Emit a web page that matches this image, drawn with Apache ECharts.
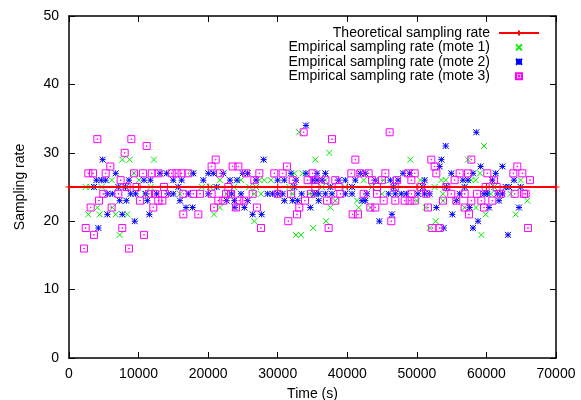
<!DOCTYPE html>
<html>
<head>
<meta charset="utf-8">
<script src="https://cdn.jsdelivr.net/npm/echarts@6/dist/echarts.min.js"></script>
<style>
html,body{margin:0;padding:0;background:#fff;}
#chart{width:581px;height:400px;}
</style>
</head>
<body>
<div id="chart"></div>
<script>
// ---- data ----
var xTicks = [0, 10000, 20000, 30000, 40000, 50000, 60000, 70000];
var yTicks = [0, 10, 20, 30, 40, 50];
var seriesNames = [
  'Theoretical sampling rate',
  'Empirical sampling rate (mote 1)',
  'Empirical sampling rate (mote 2)',
  'Empirical sampling rate (mote 3)'
];
var theoreticalTime = [0, 10000, 20000, 30000, 40000, 50000, 60000, 70000];
var theoreticalRate = [25, 25, 25, 25, 25, 25, 25, 25];

var mote1 = [
  [2400,25],[2780,21],[3110,25],[4070,22],[4410,21],[4690,25],[6130,26],[6230,22],[6710,21],[7280,18],
  [7660,29],[8380,21],[8720,29],[9340,27],[10060,26],[10920,24],[11740,25],[12200,29],
  [15950,24],[17630,27],[19070,25],[20270,25],[20840,21],[21700,26],[21700,22],[22660,24],[23700,25],
  [24720,26],[25920,25],[26640,24],[26640,20],[26880,25],[27360,26],[27600,24],[28070,26],[29030,26],
  [31670,25],[32150,24],[32390,27],[32630,18],[33100,33],[33350,18],[33580,27],[34540,24],[35100,19],[35400,29],
  [35410,24],[36370,25],[36850,26],[36940,20],[37420,30],[37560,22],[38280,23],[39720,25],[41400,23],[41640,22],
  [42350,26],[43310,22],[43550,25],[44990,24],[45230,26],
  [49060,29],[50020,23],[50500,26],[51270,22],[51840,19],[52560,25],[52700,20],[53520,26],[53760,24],[53760,23],
  [54140,26],[56870,22],[57350,29],[57830,26],[58500,22],[58450,26],
  [59080,27],[59270,18],[59650,31],[59890,21],[60610,24],[61090,25],[63480,24],[64200,21],[64920,26],[65880,23]
];
var mote2 = [
  [3590,25],[3930,26],[4220,19],[4650,26],[4840,29],[5270,26],[5510,24],[5510,21],[6230,24],[6710,27],
  [7090,25],[7280,23],[7660,21],[8140,25],[8240,23],[8620,26],[8860,24],[9440,20],[9580,24],[10780,26],
  [11020,24],[11260,23],[11700,26],[11550,21],
  [12600,24],[13080,27],[14040,27],[14280,24],[14990,26],[14990,24],[15710,25],[15950,23],[16190,26],[16820,22],
  [17150,24],[17770,22],[17870,27],[19310,26],[20020,27],[20020,24],[20740,27],[21220,25],[22180,27],[22660,23],
  [23140,26],[23380,24],[23860,22],[23770,23],
  [24150,26],[24720,24],[24960,27],[25200,22],[25680,27],[25680,23],[26400,21],[26880,26],[27690,21],[27980,29],
  [28550,24],[29270,24],[29990,26],[29990,24],[30710,24],[30950,26],[30950,23],[31910,27],[32150,23],[32390,25],
  [32630,26],[32870,23],[33440,24],[34060,34],[34060,27],[34690,22],[35020,26],[35260,24],
  [35650,27],[35650,26],[35890,24],[35890,23],[36370,26],[36850,27],[36850,24],[37560,25],[37800,24],[38760,26],
  [39720,26],[39720,24],[40680,25],[40680,24],[41160,26],[41870,27],[42110,23],[42590,27],[42590,23],[42830,24],
  [44030,26],[44610,20],[45950,24],[46190,26],[46420,21],[46660,25],[46900,24],
  [47290,26],[47770,24],[48010,27],[48490,24],[48970,27],[50160,24],[50880,25],[51120,26],[51120,24],[51840,24],
  [52800,22],[53280,28],[53520,29],[53850,19],[54140,31],[54240,25],[54950,27],[55100,21],[55670,23],[56150,24],
  [56630,26],[56870,25],[57350,26],[57590,22],[58070,27],[58070,19],[58550,33],[58790,20],
  [59170,28],[59650,24],[60130,24],[60370,22],[60850,26],[61330,27],[61570,24],[61810,23],[62290,28],[62290,24],
  [62770,25],[63100,18],[63240,25],[63960,26],[64680,22],[64920,25]
];
var mote3 = [
  [2160,16],[2400,19],[2780,27],[3110,22],[3450,27],[3590,18],[4070,32],[4310,23],[4930,24],[5270,27],
  [5940,28],[6130,22],[7090,24],[7420,26],[7660,19],[8000,30],[8290,25],[8620,16],[8960,32],[9340,27],
  [9720,25],[10200,23],[10630,27],[10780,18],[11160,31],[11500,24],[11900,27],
  [12360,24],[12120,22],[12840,27],[12840,23],[13420,23],[13650,25],[13800,24],[14760,27],[15470,27],[16190,27],
  [16430,24],[16430,21],[17150,27],[17870,24],[18590,21],[18830,24],[20500,28],[20500,24],[20840,22],[21080,29],
  [21460,23],[21700,27],[22180,23],[22560,24],[22900,25],[23520,28],
  [23290,24],[24000,22],[24340,28],[24480,23],[25200,23],[25440,27],[26400,24],[26640,26],[27020,22],[27360,27],
  [27600,19],[29510,27],[29990,24],[30710,27],[31330,28],[31520,20],[31910,24],[32150,26],[32770,21],[33100,22],
  [33730,33],[33920,23],[34300,26],[34780,24],[35020,27],
  [35410,26],[35410,25],[36850,26],[37080,23],[37320,19],[37800,32],[38280,26],[38280,23],[38760,25],[39000,24],
  [40580,27],[40770,21],[41160,29],[41540,21],[41870,27],[42350,24],[43070,27],[43310,22],[43550,26],[44030,22],
  [44270,25],[44270,24],[44990,26],[45230,23],[45470,27],[46090,33],[46330,20],[46900,23],[47140,26],
  [46810,25],[48250,23],[48730,27],[48970,23],[49210,26],[49210,24],[49690,27],[49690,23],[50640,25],[51360,24],
  [51600,22],[52080,29],[52220,19],[52560,28],[52800,27],[53280,19],[53760,23],[54240,25],[54950,24],[55430,26],
  [55670,23],[56150,27],[56870,24],[56870,22],[57350,27],[57490,21],[57830,29],[57830,23],[58640,24],
  [59270,23],[59650,22],[59890,25],[60130,27],[60850,23],[61090,26],[61470,25],[62050,24],[63870,27],[64060,24],
  [64440,28],[65160,27],[65400,24],[65640,24],[65970,19],[66260,26]
];

// ---- chart ----
var FONT = 'Liberation Sans, Arial, Helvetica, sans-serif';
var chart = echarts.init(document.getElementById('chart'), null, {renderer: 'canvas'});

var theoData = theoreticalTime.map(function (t, i) { return [t, theoreticalRate[i]]; });

var plusPath = 'path://M0,5L10,5M5,0L5,10';
var crossPath = 'path://M0,0L10,10M10,0L0,10';
var starPath = 'path://M0,0L10,10M10,0L0,10M5,0L5,10M0,5L10,5';
var boxPath = 'path://M0,0L10,0L10,10L0,10Z M4.5,4.5L5.5,4.5L5.5,5.5L4.5,5.5Z';

function plain(v) { return String(v); }

function axisCommon(showLabel) {
  return {
    axisLine: {show: true, onZero: false, lineStyle: {color: '#000', width: 1.5}},
    axisTick: {show: true, inside: true, length: 6, lineStyle: {color: '#000', width: 1}},
    axisLabel: {show: showLabel, color: '#000', fontFamily: FONT, fontSize: 14, formatter: plain},
    splitLine: {show: false}
  };
}

var xBottom = Object.assign({type: 'value', min: 0, max: 70000, interval: 10000, position: 'bottom',
  name: 'Time (s)', nameLocation: 'middle', nameGap: 29,
  nameTextStyle: {color: '#000', fontFamily: FONT, fontSize: 14}}, axisCommon(true));
xBottom.axisLabel.margin = 9;
var xTop = Object.assign({type: 'value', min: 0, max: 70000, interval: 10000, position: 'top'}, axisCommon(false));
var yLeft = Object.assign({type: 'value', min: 0, max: 50, interval: 10, position: 'left',
  name: 'Sampling rate', nameLocation: 'middle', nameGap: 42, nameRotate: 90,
  nameTextStyle: {color: '#000', fontFamily: FONT, fontSize: 14}}, axisCommon(true));
yLeft.axisLabel.margin = 10;
var yRight = Object.assign({type: 'value', min: 0, max: 50, interval: 10, position: 'right'}, axisCommon(false));

function scatter(name, data, path, size, color) {
  return {
    name: name, type: 'scatter', data: data, symbol: path, symbolSize: size,
    xAxisIndex: 0, yAxisIndex: 0, animation: false,
    itemStyle: {color: 'rgba(0,0,0,0)', borderColor: color, borderWidth: 1, opacity: 1},
    emphasis: {disabled: true}
  };
}

chart.setOption({
  animation: false,
  backgroundColor: '#fff',
  grid: {left: 69, right: 25, top: 16, bottom: 42, containLabel: false, outerBoundsMode: 'none'},
  xAxis: [xBottom, xTop],
  yAxis: [yLeft, yRight],
  legend: {
    orient: 'vertical', right: 36, top: 21, align: 'right',
    itemWidth: 40, itemHeight: 6, itemGap: 0.4,
    textStyle: {color: '#000', fontFamily: FONT, fontSize: 14, lineHeight: 14, padding: [0, 4, 0, 0]},
    selectedMode: false,
    data: seriesNames
  },
  series: [
    {
      name: seriesNames[0], type: 'line', data: theoData,
      symbol: plusPath, symbolSize: 7, showSymbol: true,
      lineStyle: {color: '#ff0000', width: 2},
      itemStyle: {color: 'rgba(0,0,0,0)', borderColor: '#ff0000', borderWidth: 1},
      emphasis: {disabled: true}
    },
    scatter(seriesNames[1], mote1, crossPath, 6, '#00ee00'),
    scatter(seriesNames[2], mote2, starPath, 6, '#0000ff'),
    scatter(seriesNames[3], mote3, boxPath, 7, '#ff00ff')
  ]
});
</script>
</body>
</html>
